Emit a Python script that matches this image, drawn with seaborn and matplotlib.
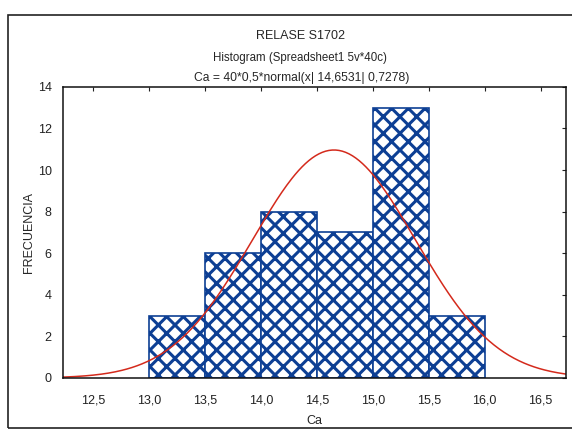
import matplotlib
matplotlib.use("Agg")
import matplotlib.pyplot as plt
import matplotlib.patches as mpatches
import numpy as np
import pandas as pd
import seaborn as sns

# histogram bins and counts (Ca, 40 cases)
bin_edges = [13.0, 13.5, 14.0, 14.5, 15.0, 15.5, 16.0]
counts = [3, 6, 8, 7, 13, 3]
# fitted normal from the title: 40*0.5*normal(x| 14,6531| 0,7278)
n_cases = 40
bin_width = 0.5
mu = 14.6531
sigma = 0.7278

xticks = [12.5, 13.0, 13.5, 14.0, 14.5, 15.0, 15.5, 16.0, 16.5]
xtick_labels = ["12,5", "13,0", "13,5", "14,0", "14,5", "15,0", "15,5", "16,0", "16,5"]
yticks = [0, 2, 4, 6, 8, 10, 12, 14]

sns.set_style("white")
plt.rcParams["font.family"] = ["Liberation Sans", "DejaVu Sans"]
plt.rcParams["hatch.linewidth"] = 2.2

blue = "#0d3f94"
centers = [(a + b) / 2 for a, b in zip(bin_edges[:-1], bin_edges[1:])]
df = pd.DataFrame({"Ca": centers, "n": counts})

fig = plt.figure(figsize=(5.72, 4.32), dpi=100)
ax = fig.add_axes([0.110, 0.125, 0.880, 0.674])

sns.histplot(data=df, x="Ca", weights="n", bins=bin_edges, ax=ax,
             color="white", edgecolor=blue, linewidth=1.2, alpha=1)
for p in ax.patches:
    p.set_hatch("xx")
    p.set_facecolor("white")

xmin, xmax = 12.23, 16.73
xs = np.linspace(xmin, xmax, 300)
curve = pd.DataFrame({"x": xs,
                      "y": n_cases * bin_width * np.exp(-0.5 * ((xs - mu) / sigma) ** 2)
                      / (sigma * np.sqrt(2 * np.pi))})
sns.lineplot(data=curve, x="x", y="y", ax=ax, color="#d42a1c", linewidth=1.1)

ax.set_xlim(xmin, xmax)
ax.set_ylim(0, 14)
ax.set_xticks(xticks)
ax.set_xticklabels(xtick_labels)
ax.set_yticks(yticks)
ax.tick_params(direction="in", length=3, width=0.8, labelsize=9, colors="#222222",
               top=True, right=True, pad=8)
ax.tick_params(axis="x", pad=12)
for s in ax.spines.values():
    s.set_color("#111111")
    s.set_linewidth(1.1)
ax.set_xlabel("Ca", fontsize=9, labelpad=6)
ax.set_ylabel("FRECUENCIA", fontsize=9, labelpad=2)

fig.text(0.525, 0.917, "RELASE S1702", ha="center", va="center", fontsize=9)
fig.text(0.525, 0.866, "Histogram (Spreadsheet1 5v*40c)", ha="center", va="center", fontsize=8.3)
fig.text(0.528, 0.819, "Ca = 40*0,5*normal(x| 14,6531| 0,7278)", ha="center", va="center", fontsize=8.7)

# outer frame of the graph window
frame = mpatches.Rectangle((0.014, 0.009), 1.0, 0.956, transform=fig.transFigure,
                           fill=False, edgecolor="#222222", linewidth=1.2)
fig.patches.append(frame)

fig.savefig("out.png", dpi=100)
